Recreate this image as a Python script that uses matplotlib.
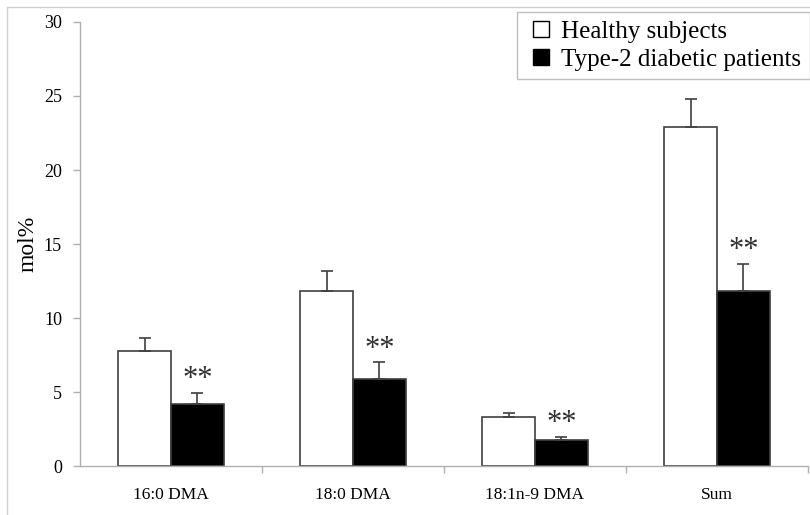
import numpy as np
import matplotlib
matplotlib.use("Agg")
import matplotlib.pyplot as plt
from matplotlib.lines import Line2D

plt.rcParams['font.family'] = ['Liberation Serif', 'DejaVu Serif']

categories = ['16:0 DMA', '18:0 DMA', '18:1n-9 DMA', 'Sum']
healthy = [7.8, 11.8, 3.3, 22.9]
healthy_err = [0.85, 1.4, 0.25, 1.9]
diabetic = [4.2, 5.9, 1.75, 11.8]
diabetic_err = [0.75, 1.1, 0.2, 1.85]
star_labels = ['**', '**', '**', '**']

fig = plt.figure(figsize=(8.1, 5.15), dpi=100)
ax = fig.add_axes([0.0988, 0.0951, 0.8987, 0.8622])

x = np.arange(len(categories))
w = 0.29
edge = '#404040'
err_kw = dict(ecolor='#404040', elinewidth=1.2, capsize=4, capthick=1.2)

ax.bar(x - w / 2, healthy, w, color='white', edgecolor=edge, linewidth=1.2,
       yerr=[np.zeros(4), healthy_err], error_kw=err_kw, zorder=2)
ax.bar(x + w / 2, diabetic, w, color='black', edgecolor=edge, linewidth=1.2,
       yerr=[np.zeros(4), diabetic_err], error_kw=err_kw, zorder=2)

for i in range(len(categories)):
    ax.text(x[i] + w / 2, diabetic[i] + diabetic_err[i] + 0.9, star_labels[i],
            ha='center', va='center', fontsize=22, color='#303030')

ax.set_xlim(-0.5, len(categories) - 0.5)
ax.set_ylim(0, 30)
ax.set_yticks(range(0, 31, 5))
ax.set_xticks(x)
ax.set_xticklabels(categories, fontsize=12.5)
ax.set_xticks(np.arange(0.5, len(categories), 1), minor=True)
ax.tick_params(axis='x', which='major', length=0, pad=15)
ax.tick_params(axis='x', which='minor', length=5, color='#b0b0b0', width=1)
ax.tick_params(axis='y', length=5, color='#b0b0b0', width=1, labelsize=13, pad=8)
for s in ['top', 'right']:
    ax.spines[s].set_visible(False)
for s in ['left', 'bottom']:
    ax.spines[s].set_color('#b0b0b0')
    ax.spines[s].set_linewidth(1)
ax.set_ylabel('mol%', fontsize=17, labelpad=4)

handles = [Line2D([], [], ls='none', marker='s', markersize=11,
                  markerfacecolor='white', markeredgecolor='black', markeredgewidth=1),
           Line2D([], [], ls='none', marker='s', markersize=11,
                  markerfacecolor='black', markeredgecolor='black', markeredgewidth=1)]
leg = ax.legend(handles, ['Healthy subjects', 'Type-2 diabetic patients'],
                loc='upper right', bbox_to_anchor=(0.9995, 0.977),
                bbox_transform=fig.transFigure, fontsize=18, frameon=True,
                fancybox=False, edgecolor='#b0b0b0', handlelength=1.25,
                handletextpad=0.15, borderpad=0.35,
                labelspacing=0.2, borderaxespad=0)
leg.get_frame().set_linewidth(1)

fig.add_artist(Line2D([0.0086, 1.0], [0.986, 0.986], color='#d0d0d0', lw=1))
fig.add_artist(Line2D([0.0086, 0.0086], [0.0, 0.986], color='#d0d0d0', lw=1))

fig.savefig('out.png', dpi=100)
